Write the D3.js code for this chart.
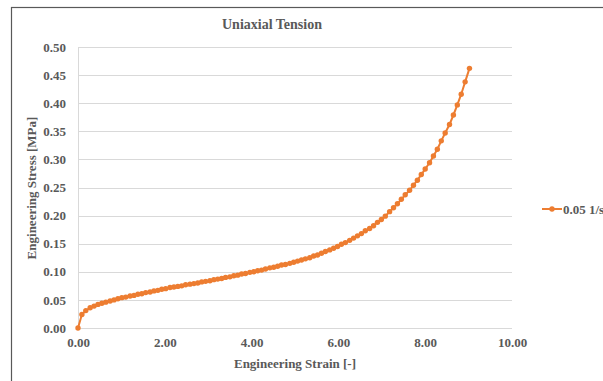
<!DOCTYPE html>
<html>
<head>
<meta charset="utf-8">
<script src="https://cdn.jsdelivr.net/npm/d3@7"></script>
<style>
  body { margin: 0; background: #fff; }
  svg text { font-family: "Liberation Serif", "Times New Roman", serif; font-weight: bold; fill: #595959; }
</style>
</head>
<body>
<svg id="chart" width="603" height="381"></svg>
<script>
// strain [-] and stress [MPa]
var strain = [0.00, 0.09, 0.18, 0.28, 0.37, 0.46, 0.55, 0.64, 0.74, 0.83,
  0.92, 1.01, 1.10, 1.20, 1.29, 1.38, 1.47, 1.56, 1.66, 1.75,
  1.84, 1.93, 2.02, 2.12, 2.21, 2.30, 2.39, 2.48, 2.58, 2.67,
  2.76, 2.85, 2.94, 3.04, 3.13, 3.22, 3.31, 3.40, 3.50, 3.59,
  3.68, 3.77, 3.86, 3.96, 4.05, 4.14, 4.23, 4.32, 4.42, 4.51,
  4.60, 4.69, 4.78, 4.88, 4.97, 5.06, 5.15, 5.24, 5.34, 5.43,
  5.52, 5.61, 5.70, 5.80, 5.89, 5.98, 6.07, 6.16, 6.26, 6.35,
  6.44, 6.53, 6.62, 6.72, 6.81, 6.90, 6.99, 7.08, 7.18, 7.27,
  7.36, 7.45, 7.54, 7.64, 7.73, 7.82, 7.91, 8.00, 8.10, 8.19,
  8.28, 8.37, 8.46, 8.56, 8.65, 8.74, 8.83, 8.92, 9.02];
var stress = [0.000, 0.024, 0.031, 0.036, 0.039, 0.042, 0.044, 0.046, 0.048, 0.050,
  0.052, 0.054, 0.055, 0.057, 0.058, 0.060, 0.061, 0.063, 0.064, 0.066,
  0.067, 0.069, 0.070, 0.072, 0.073, 0.074, 0.075, 0.077, 0.078, 0.079,
  0.080, 0.082, 0.083, 0.084, 0.086, 0.087, 0.088, 0.090, 0.091, 0.093,
  0.094, 0.096, 0.097, 0.099, 0.100, 0.102, 0.103, 0.105, 0.107, 0.108,
  0.110, 0.112, 0.113, 0.115, 0.117, 0.119, 0.121, 0.123, 0.125, 0.128,
  0.130, 0.133, 0.136, 0.139, 0.142, 0.145, 0.149, 0.152, 0.156, 0.160,
  0.164, 0.168, 0.173, 0.177, 0.182, 0.188, 0.193, 0.199, 0.207, 0.214,
  0.221, 0.229, 0.237, 0.245, 0.254, 0.263, 0.273, 0.283, 0.294, 0.306,
  0.318, 0.333, 0.347, 0.362, 0.379, 0.397, 0.416, 0.438, 0.462];
var xTicks = [0, 2, 4, 6, 8, 10];
var yTicks = [0, 0.05, 0.10, 0.15, 0.20, 0.25, 0.30, 0.35, 0.40, 0.45, 0.50];
var seriesName = "0.05 1/s";
var color = "#ED7D31";

var svg = d3.select("#chart");

// outer chart frame (cropped at right and bottom)
svg.append("rect")
  .attr("x", 11.5).attr("y", 7.5)
  .attr("width", 700).attr("height", 500)
  .attr("fill", "none")
  .attr("stroke", "#595959")
  .attr("stroke-width", 1.2);

var xScale = d3.scaleLinear().domain([0, 10]).range([78, 512]),
    yScale = d3.scaleLinear().domain([0, 0.5]).range([328, 47]);

// grid
svg.append("g")
  .selectAll("line")
  .data(yTicks)
  .enter()
  .append("line")
    .attr("x1", xScale(0)).attr("x2", xScale(10))
    .attr("y1", d => Math.round(yScale(d)) + 0.5)
    .attr("y2", d => Math.round(yScale(d)) + 0.5)
    .attr("stroke", "#D9D9D9");

svg.append("line")
  .attr("x1", xScale(0) + 0.5).attr("x2", xScale(0) + 0.5)
  .attr("y1", yScale(0.5)).attr("y2", yScale(0))
  .attr("stroke", "#D9D9D9");

// axes (labels only)
var xAxis = d3.axisBottom(xScale).tickValues(xTicks).tickFormat(d3.format(".2f")).tickSize(0).tickPadding(10);
var yAxis = d3.axisLeft(yScale).tickValues(yTicks).tickFormat(d3.format(".2f")).tickSize(0).tickPadding(12);

var gx = svg.append("g").attr("transform", "translate(0," + yScale(0) + ")").call(xAxis);
var gy = svg.append("g").attr("transform", "translate(" + xScale(0) + ",0)").call(yAxis);
[gx, gy].forEach(function(g) {
  g.select(".domain").remove();
  g.selectAll("text").style("font-size", "13px").attr("fill", "#595959")
    .style("font-family", "'Liberation Serif', serif");
});

// series
var pts = strain.map((d, i) => [d, stress[i]]);
svg.append("path")
  .datum(pts)
  .attr("fill", "none")
  .attr("stroke", color)
  .attr("stroke-width", 2)
  .attr("d", d3.line().x(d => xScale(d[0])).y(d => yScale(d[1])));

svg.append("g")
  .selectAll("circle")
  .data(pts)
  .enter()
  .append("circle")
    .attr("cx", d => xScale(d[0]))
    .attr("cy", d => yScale(d[1]))
    .attr("r", 2.7)
    .attr("fill", color);

// titles
svg.append("text")
  .attr("x", 272).attr("y", 29)
  .attr("text-anchor", "middle")
  .style("font-size", "14px")
  .text("Uniaxial Tension");

svg.append("text")
  .attr("x", 295).attr("y", 368)
  .attr("text-anchor", "middle")
  .style("font-size", "13px")
  .text("Engineering Strain [-]");

svg.append("text")
  .attr("transform", "translate(36,188) rotate(-90)")
  .attr("text-anchor", "middle")
  .style("font-size", "13px")
  .text("Engineering Stress [MPa]");

// legend
var lg = svg.append("g").attr("transform", "translate(542,209)");
lg.append("line").attr("x1", 0).attr("x2", 20).attr("y1", 0).attr("y2", 0)
  .attr("stroke", color).attr("stroke-width", 2);
lg.append("circle").attr("cx", 10).attr("cy", 0).attr("r", 2.7).attr("fill", color);
lg.append("text").attr("x", 21).attr("y", 4.5).style("font-size", "13px").text(seriesName);
</script>
</body>
</html>
